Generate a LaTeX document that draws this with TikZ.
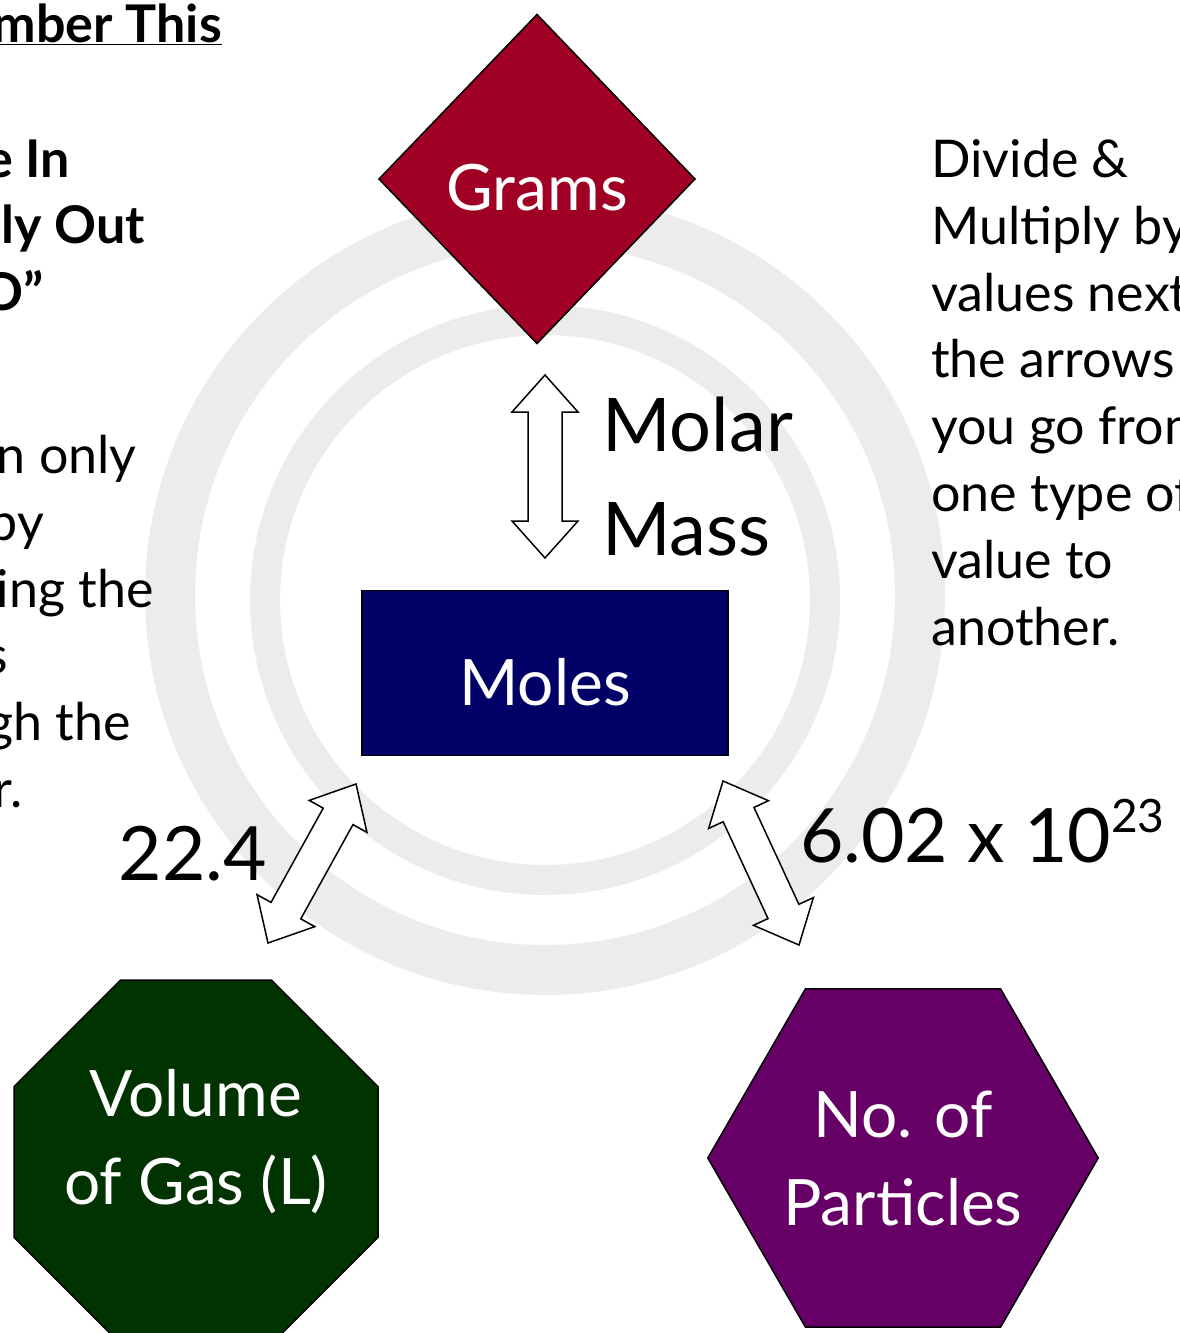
\documentclass[tikz,border=0pt]{standalone}
\usepackage{fontspec}
\setmainfont{Lato}
\usetikzlibrary{shapes.geometric,calc}

\newcommand{\pxfont}[2]{\fontsize{#1}{#2}\selectfont}
\newcommand{\lowered}[2]{\raisebox{-#1}[\height][\depth]{#2}}

% hollow double block arrow between two named coordinates
\newcommand{\dblarrow}[2]{%
  \coordinate (ha) at ($(#1)!37pt!(#2)$);
  \coordinate (hb) at ($(#2)!37pt!(#1)$);
  \draw[hollow] (#1) -- ($(ha)!33pt!90:(#2)$) -- ($(ha)!17pt!90:(#2)$)
    -- ($(hb)!17pt!-90:(#1)$) -- ($(hb)!33pt!-90:(#1)$) -- (#2)
    -- ($(hb)!33pt!90:(#1)$) -- ($(hb)!17pt!90:(#1)$)
    -- ($(ha)!17pt!-90:(#2)$) -- ($(ha)!33pt!-90:(#2)$) -- cycle;}

\begin{document}
\begin{tikzpicture}[x=1pt, y=-1pt,
    quantity/.style={draw=black, line width=1.5pt, inner sep=0pt, outer sep=0pt, text=white, align=center, font=\pxfont{64}{88}},
    factor/.style={inner sep=0pt, font=\pxfont{75}{90}},
    notetext/.style={inner sep=0pt, align=left, font=\pxfont{52}{66.8}},
    notebold/.style={inner sep=0pt, anchor=base east, font=\pxfont{52}{66.8}\bfseries},
    noteplain/.style={inner sep=0pt, anchor=base east, font=\pxfont{52}{66.8}},
    hollow/.style={draw=black, fill=white, line width=1.5pt, line join=miter},
    watermark/.style={draw=gray!15},
]

\useasboundingbox (0,0) rectangle (1179,1333);
\clip (0,0) rectangle (1179,1333);

% faint background picture
\draw[watermark, line width=50pt] (545,595) circle[radius=375pt];
\draw[watermark, line width=30pt] (545,600) circle[radius=280pt];

\node (grams) [quantity, diamond, fill={rgb,255:red,160;green,0;blue,36}, minimum width=316pt, minimum height=329pt] at (537,179) {\lowered{9pt}{Grams}};

\node (moles) [quantity, rectangle, fill={rgb,255:red,0;green,0;blue,102}, minimum width=366pt, minimum height=165pt] at (545,673) {\lowered{9pt}{Moles}};

\node (volume) [quantity, regular polygon, regular polygon sides=8, fill={rgb,255:red,0;green,51;blue,0}, minimum size=394pt] at (196,1162) {};
\node (volumetext) [quantity, draw=none] at ([yshift=20pt]volume.center) {Volume\\of Gas (L)};

\node (particles) [quantity, regular polygon, regular polygon sides=6, fill={rgb,255:red,102;green,0;blue,102}, minimum size=390pt] at (903,1158) {No. of\\Particles};

% conversion arrows
\coordinate (gm1) at (545,375);
\coordinate (gm2) at (545,558);
\coordinate (vm1) at (356,784);
\coordinate (vm2) at (268,943);
\coordinate (pm1) at (723,781);
\coordinate (pm2) at (799,945);
\dblarrow{gm1}{gm2}
\dblarrow{vm1}{vm2}
\dblarrow{pm1}{pm2}

\node (molar) [inner sep=0pt, align=left, anchor=north west, font=\pxfont{74}{104}] at (602,397) {Molar\\Mass};
\node (avogadro) [factor, anchor=base west] at (800,862) {6.02 x 10\raisebox{30pt}{\pxfont{46}{46}23}};
\node (molvol) [factor, anchor=base] at (193,880) {22.4};

\node (hint) [notetext, anchor=north west] at (931,139) {Divide \&\\Multiply by\\values next\\the arrows\\you go from\\one type of\\value to\\another.};

% left side notes, cut by the page edge
\node (title) [notebold] at (222,42) {\underline{mber This}};
\node (rulein) [notebold] at (70,177) {e In};
\node (ruleout) [notebold] at (145,243) {ply Out};
\node (rulequote) [notebold] at (44,310) {O”};

\node (linea) [noteplain] at (137,473) {an only};
\node (lineb) [noteplain] at (44,540) {by};
\node (linec) [noteplain] at (154,607) {ing the};
\node (lined) [noteplain] at (8,673) {s};
\node (linee) [noteplain] at (131,740) {gh the};
\node (linef) [noteplain] at (23,807) {r.};

\end{tikzpicture}
\end{document}
